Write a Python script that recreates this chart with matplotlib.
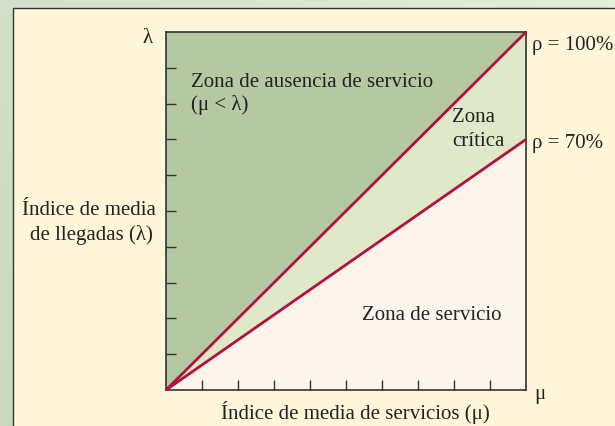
import numpy as np
import matplotlib
matplotlib.use("Agg")
import matplotlib.pyplot as plt
from matplotlib.patches import Rectangle

# data
mu = [0.0, 1.0]
rho_levels = [1.0, 0.7]
rho_labels = ["ρ = 100%", "ρ = 70%"]
n_ticks = 10

plt.rcParams['font.family'] = ['Liberation Serif', 'DejaVu Serif']
W, H = 615, 426
fig = plt.figure(figsize=(W/100, H/100), dpi=100)

# background gradient
bg = fig.add_axes([0, 0, 1, 1])
xx = np.linspace(0, 1, 200)
yy = np.linspace(0, 1, 200)
X, Y = np.meshgrid(xx, yy)
t = np.clip(0.6 * X + 0.4 * Y, 0, 1)
c0 = np.array([0.78, 0.85, 0.75])
c1 = np.array([0.90, 0.93, 0.86])
img = c0[None, None, :] * (1 - t[..., None]) + c1[None, None, :] * t[..., None]
bg.imshow(img, extent=[0, 1, 0, 1], origin='lower', aspect='auto')
bg.set_xlim(0, 1); bg.set_ylim(0, 1)
bg.axis('off')
bg.add_patch(Rectangle((13/W, -0.1), 1.0, (H - 8)/H + 0.1, transform=bg.transAxes,
                       facecolor='#fff5d8', edgecolor='#333333', linewidth=1.0))

# main axes: left 166, right 526, top 32, bottom 390
l, r, tp, b = 166, 526, 32, 390
ax = fig.add_axes([l/W, 1 - b/H, (r - l)/W, (b - tp)/H])
ax.set_xlim(0, 1); ax.set_ylim(0, 1)
x = np.array(mu)
ax.fill_between(x, x * rho_levels[0], 1, color='#b4c9a2', zorder=1)
ax.fill_between(x, x * rho_levels[1], x * rho_levels[0], color='#dfe8c8', zorder=1)
ax.fill_between(x, 0, x * rho_levels[1], color='#fdf5ec', zorder=1)
for rl in rho_levels:
    ax.plot(x, x * rl, color='#b5103c', lw=2, zorder=3, clip_on=False, solid_capstyle='butt')

ticks = np.linspace(0, 1, n_ticks + 1)[1:-1]
ax.set_xticks(ticks); ax.set_yticks(ticks)
ax.set_xticklabels([]); ax.set_yticklabels([])
ax.tick_params(direction='in', length=7, width=1, color='#333333')
for s in ax.spines.values():
    s.set_color('#333333'); s.set_linewidth(1.2)

fs = 15
tc = '#222222'
kw = dict(fontsize=fs, color=tc, va='baseline')
ax.text(-0.036, 0.969, 'λ', ha='right', **kw)
ax.text(1.022, -0.025, 'μ', ha='left', **kw)
ax.text(1.017, 0.95, rho_labels[0], ha='left', **kw)
ax.text(1.017, 0.676, rho_labels[1], ha='left', **kw)
ax.text(0.525, -0.081, 'Índice de media de servicios (μ)', ha='center', **kw)
ax.text(-0.213, 0.489, 'Índice de media', ha='center', **kw)
ax.text(-0.206, 0.418, 'de llegadas (λ)', ha='center', **kw)
ax.text(0.069, 0.846, 'Zona de ausencia de servicio', ha='left', **kw)
ax.text(0.069, 0.782, '(μ < λ)', ha='left', **kw)
ax.text(0.794, 0.749, 'Zona', ha='left', **kw)
ax.text(0.794, 0.682, 'crítica', ha='left', **kw)
ax.text(0.544, 0.196, 'Zona de servicio', ha='left', **kw)

fig.savefig('out.png', dpi=100)
